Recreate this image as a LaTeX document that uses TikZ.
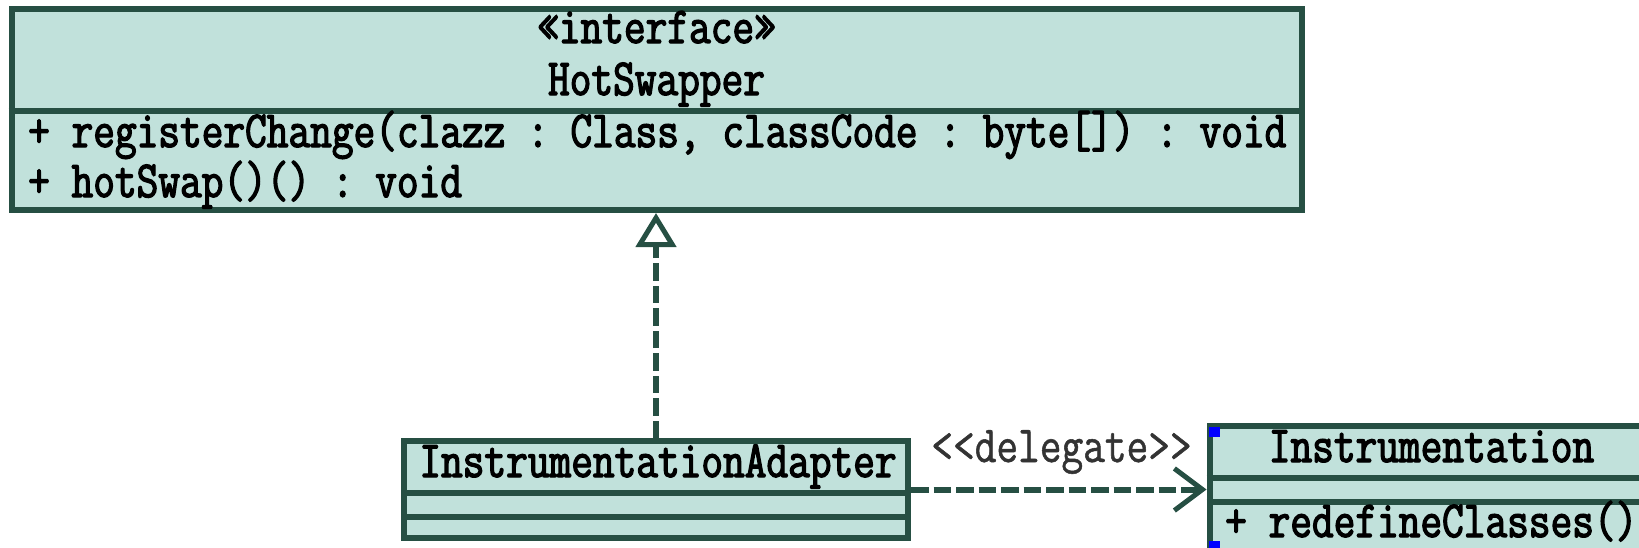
\documentclass[tikz,border=0pt]{standalone}
\usepackage{fontspec}
\newfontfamily\umlfont[FakeStretch=0.81,FakeBold=2.5]{Latin Modern Mono}
\newfontfamily\umllabelfont[FakeStretch=0.81,FakeBold=1]{Latin Modern Mono}
\usetikzlibrary{arrows.meta}
\definecolor{umlfill}{RGB}{193,225,219}
\definecolor{umlline}{RGB}{38,79,67}
\definecolor{lblgray}{RGB}{51,51,51}
\definecolor{handle}{RGB}{0,0,255}
\begin{document}
\begin{tikzpicture}[x=1pt,y=-1pt,
  classbox/.style={draw=umlline, fill=umlfill, line width=6pt, inner sep=0pt, rectangle},
  divider/.style={draw=umlline, line width=6pt},
  txt/.style={inner sep=0pt, font=\umlfont\fontsize{52}{58}\selectfont\frenchspacing, text=black},
  lbltxt/.style={inner sep=0pt, font=\umllabelfont\fontsize{52}{58}\selectfont\frenchspacing, text=lblgray},
  conn/.style={draw=umlline, line width=6pt, dash pattern=on 17.5pt off 5pt},
]
\useasboundingbox (0,0) rectangle (1639,547);
\begin{scope}
\clip (0,0) rectangle (1639,547);
% class boxes
\node[classbox, minimum width=1290pt, minimum height=201pt] (HS) at (656.5,109.5) {};
\node[classbox, minimum width=504pt, minimum height=97pt] (IA) at (656,489.5) {};
\node[classbox, minimum width=444pt, minimum height=220pt] (IN) at (1431.5,536) {};
% compartment dividers
\draw[divider] ([yshift=-1pt]HS.west) -- ([yshift=-1pt]HS.east);
\draw[divider] ([yshift=-3pt]IA.west) -- ([yshift=-3pt]IA.east);
\draw[divider] ([yshift=-27.5pt]IA.west) -- ([yshift=-27.5pt]IA.east);
\draw[divider] ([yshift=58pt]IN.west) -- ([yshift=58pt]IN.east);
\draw[divider] ([yshift=34pt]IN.west) -- ([yshift=34pt]IN.east);
% texts
\node[txt, anchor=base] (t1) at (656.5,43) {«interface»};
\node[txt, anchor=base] (t2) at (656.5,95) {HotSwapper};
\node[txt, anchor=base west] (t3) at (28,147) {+ registerChange(clazz : Class, classCode : byte[]) : void};
\node[txt, anchor=base west] (t4) at (28,197) {+ hotSwap()() : void};
\node[txt, anchor=base] (t5) at (658,477) {InstrumentationAdapter};
\node[txt, anchor=base] (t6) at (1431.5,462) {Instrumentation};
\node[txt, anchor=base west] (t7) at (1225,537) {+ redefineClasses()};
% connectors
\draw[conn, -{Triangle[open, length=34pt, width=40pt, line width=5pt]}] (IA.north) -- (IA.north |- HS.south);
\draw[conn, -{Straight Barb[length=28pt, width=42pt, line width=5pt]}] (IA.east) -- (IA.east -| IN.west);
\node[lbltxt, anchor=base] (lbl) at (1061.5,462) {<<delegate>>};
% selection handles
\fill[handle] (1209,427) rectangle (1220,437);
\fill[handle] (1209,541) rectangle (1220,552);
\end{scope}
\end{tikzpicture}
\end{document}
